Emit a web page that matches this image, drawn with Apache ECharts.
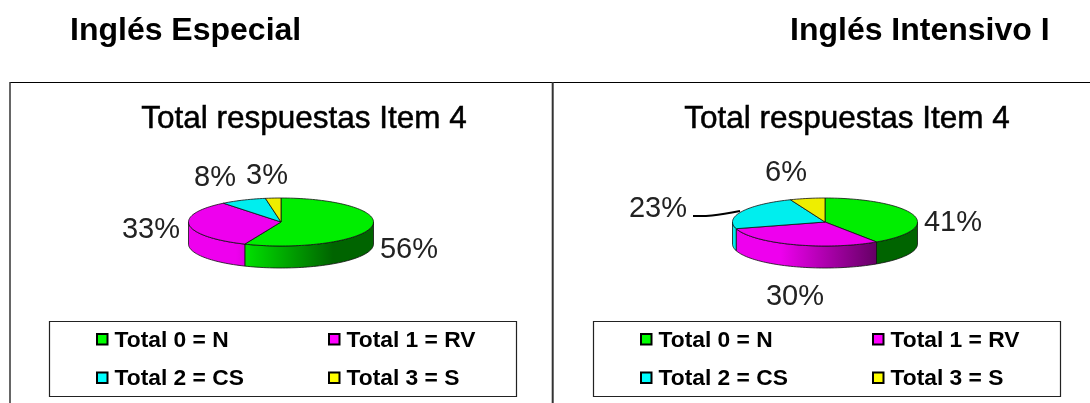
<!DOCTYPE html>
<html><head><meta charset="utf-8">
<style>html,body{margin:0;background:#fff}#c{width:1090px;height:403px}</style>
<script src="https://cdn.jsdelivr.net/npm/echarts@6/dist/echarts.min.js"></script>
</head><body><div id="c"></div>
<script>
const headings = ['Inglés Especial', 'Inglés Intensivo I'];
const chartTitle = 'Total respuestas Item 4';
const categories = ['Total 0 = N', 'Total 1 = RV', 'Total 2 = CS', 'Total 3 = S'];
const valuesEspecial = [56.4, 32.9, 8.0, 2.7];
const valuesIntensivo = [40.6, 29.9, 23.4, 6.1];

const topColors = ['#00ee00', '#ee00ee', '#00eeee', '#eeee00'];
const wallDark = ['#006400', '#640064', '#006464', '#646400'];
const swatchColors = ['#00ff00', '#ff00ff', '#00ffff', '#ffff00'];
const FONT = '"Liberation Sans", Arial, sans-serif';
const RX = 92.5, RY = 24, DEPTH = 22, CY = 222;

function slices(values) {
  const total = values.reduce((a, b) => a + b, 0);
  let acc = 0;
  return values.map((v, i) => {
    const s = acc / total * 360; acc += v;
    return { value: [s, acc / total * 360, i] };
  });
}
function pt(cx, deg, dy) {
  const r = deg * Math.PI / 180;
  return [cx + RX * Math.sin(r), CY + (dy || 0) - RY * Math.cos(r)];
}
function arc(cx, a, b, dy) {
  const out = [], n = Math.max(2, Math.ceil((b - a) / 2));
  for (let k = 0; k <= n; k++) out.push(pt(cx, a + (b - a) * k / n, dy));
  return out;
}
function topSeries(values, cx) {
  return {
    type: 'custom', coordinateSystem: 'none', z: 3, silent: true, data: slices(values),
    renderItem(p, api) {
      const a = api.value(0), b = api.value(1), i = api.value(2);
      return { type: 'polygon',
        shape: { points: [[cx, CY]].concat(arc(cx, a, b)) },
        style: { fill: topColors[i], stroke: '#111', lineWidth: 0.8 } };
    }
  };
}
function wallSeries(values, cx) {
  return {
    type: 'custom', coordinateSystem: 'none', z: 2, silent: true, data: slices(values),
    renderItem(p, api) {
      const a = Math.max(api.value(0), 90), b = Math.min(api.value(1), 270), i = api.value(2);
      if (b <= a) return null;
      const upper = arc(cx, a, b), lower = arc(cx, a, b, DEPTH).reverse();
      return { type: 'polygon',
        shape: { points: upper.concat(lower) },
        style: { stroke: '#111', lineWidth: 0.8,
          fill: { type: 'linear', global: true, x: cx - 45, y: 0, x2: cx + 52, y2: 0,
            colorStops: [{ offset: 0, color: topColors[i] }, { offset: 1, color: wallDark[i] }] } } };
    }
  };
}
function txt(x, y, text, size, weight, align, color, sw) {
  const style = { text, x: 0, y: 0,
    font: `${weight || 'normal'} ${size}px ${FONT}`, fill: color || '#111',
    align: align || 'left', verticalAlign: 'middle' };
  if (sw) { style.stroke = color || '#111'; style.lineWidth = sw; }
  return { type: 'text', x, y, silent: true, style };
}
function line(x1, y1, x2, y2, w, c) {
  return { type: 'line', silent: true, shape: { x1, y1, x2, y2 }, style: { stroke: c || '#000', lineWidth: w } };
}
function legend(dx) {
  const cols = [96, 328], rows = [339.5, 378], out = [];
  out.push({ type: 'rect', silent: true, shape: { x: 49.5 + dx, y: 321.5, width: 467, height: 75 },
    style: { fill: '#fff', stroke: '#222', lineWidth: 1.2 } });
  categories.forEach((c, i) => {
    const x = cols[i % 2] + dx, y = rows[i >> 1];
    out.push({ type: 'rect', silent: true, shape: { x: x + 1, y: y - 5.5, width: 10.5, height: 10.5 },
      style: { fill: swatchColors[i], stroke: '#000', lineWidth: 2 } });
    out.push(txt(x + 18.5, y + 1, c, 22.8, 'bold', 'left', '#000'));
  });
  return out;
}
const pctSize = 29;
const labelsLeft = [[409, 250], [151, 230], [215, 178], [267, 176]];
const labelsRight = [[953, 223], [795, 297], [658, 209], [786, 173]];
function pctLabels(values, anchors) {
  return values.map((v, i) => txt(anchors[i][0], anchors[i][1], Math.round(v) + '%', pctSize, 'normal', 'center', '#222'));
}
const graphics = [
  txt(70, 31, headings[0], 32, 'bold', 'left', '#000'),
  txt(790, 31, headings[1], 32, 'bold', 'left', '#000'),
  line(10, 82.5, 1090, 82.5, 1.2),
  line(10, 82, 10, 403, 1.5, '#333'),
  line(552.7, 82, 552.7, 403, 2, '#333'),
  txt(304, 119, chartTitle, 31.5, 'normal', 'center', '#000', 0.5),
  txt(847, 119, chartTitle, 31.5, 'normal', 'center', '#000', 0.5),
  { type: 'polyline', silent: true, z: 5,
    shape: { points: [[693, 216], [712, 215.5], [740, 211]], smooth: 0.4 },
    style: { stroke: '#000', lineWidth: 2, fill: 'none' } },
  ...legend(0), ...legend(544),
  ...pctLabels(valuesEspecial, labelsLeft),
  ...pctLabels(valuesIntensivo, labelsRight)
];
const chart = echarts.init(document.getElementById('c'), null, { renderer: 'canvas' });
chart.setOption({
  animation: false,
  backgroundColor: '#fff',
  series: [wallSeries(valuesEspecial, 281), topSeries(valuesEspecial, 281),
           wallSeries(valuesIntensivo, 825), topSeries(valuesIntensivo, 825)],
  graphic: { elements: graphics }
});
</script></body></html>
